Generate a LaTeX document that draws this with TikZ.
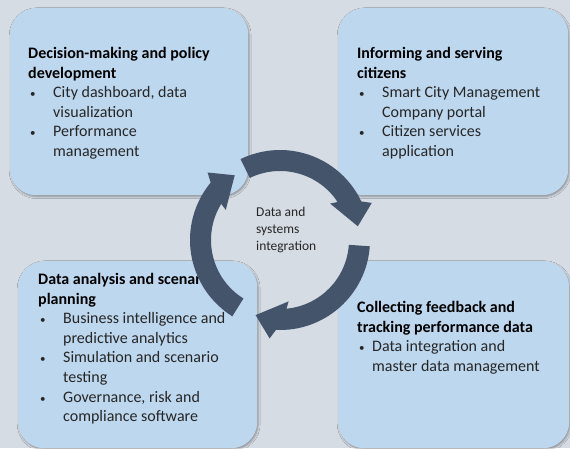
\documentclass[tikz,border=0pt]{standalone}
\usepackage{fontspec}
\setmainfont{Carlito}
\usepackage{xcolor}
\usetikzlibrary{positioning, shadows.blur}

\definecolor{bggray}{HTML}{D6DCE4}
\definecolor{panelblue}{HTML}{BDD7EE}
\definecolor{cycleslate}{HTML}{44546A}

\newcommand{\bitem}[2][25pt]{\makebox[#1][l]{\hspace{2pt}{\fontsize{11pt}{11pt}\selectfont\textbullet}}#2}
\newcommand{\bnext}[2][25pt]{\makebox[#1]{}#2}

\begin{document}
\begin{tikzpicture}[
		x=1pt, y=1pt,
		font=\fontsize{16pt}{19.6pt}\selectfont,
		panel/.style={
			fill=panelblue,
			rounded corners=26pt,
			anchor=north west,
			inner sep=0pt,
			minimum height=187pt,
			blur shadow={shadow xshift=1pt, shadow yshift=-1.5pt,
				shadow blur radius=2pt, shadow opacity=35}
		},
		paneltext/.style={
			anchor=north west,
			align=left,
			inner sep=0pt,
			text=black!85
		},
		cyclearrow/.style={fill=cycleslate}
		]
		
		\useasboundingbox (0,0) rectangle (570,448);
		\fill[bggray] (0,0) rectangle (570,448);
		
		% --- Decision-making (top left) ---
		\node[panel, minimum width=238pt] (decision) at (10,440) {};
		\node[paneltext] (decisiontxt) at ([xshift=18pt, yshift=-39pt]decision.north west) {
			\textbf{\color{black}Decision-making and policy}\\
			\textbf{\color{black}development}\\
			\bitem{City dashboard, data}\\
			\bnext{visualization}\\
			\bitem{Performance}\\
			\bnext{management}
		};
		
		% --- Informing (top right) ---
		\node[panel, minimum width=230pt] (inform) at (338,440) {};
		\node[paneltext] (informtxt) at ([xshift=19pt, yshift=-39pt]inform.north west) {
			\textbf{\color{black}Informing and serving}\\
			\textbf{\color{black}citizens}\\
			\bitem{Smart City Management}\\
			\bnext{Company portal}\\
			\bitem{Citizen services}\\
			\bnext{application}
		};
		
		% --- Analysis (bottom left) ---
		\node[panel, minimum width=239pt] (analysis) at (18,187) {};
		\node[paneltext] (analysistxt) at ([xshift=20pt, yshift=-12pt]analysis.north west) {
			\textbf{\color{black}Data analysis and scenario}\\
			\textbf{\color{black}planning}\\
			\bitem{Business intelligence and}\\
			\bnext{predictive analytics}\\
			\bitem{Simulation and scenario}\\
			\bnext{testing}\\
			\bitem{Governance, risk and}\\
			\bnext{compliance software}
		};
		
		% --- Feedback (bottom right) ---
		\node[panel, minimum width=231pt] (feedback) at (338,187) {};
		\node[paneltext] (feedbacktxt) at ([xshift=19pt, yshift=-40pt]feedback.north west) {
			\textbf{\color{black}Collecting feedback and}\\
			\textbf{\color{black}tracking performance data}\\
			\bitem[15pt]{Data integration and}\\
			\bnext[15pt]{master data management}
		};
		
		% --- Integration cycle ---
		\coordinate (hub) at (280,208);
		\begin{scope}[shift={(hub)}]
			\foreach \tail/\tip in {116/10, -4/-108, -122/-235}{
				\fill[cyclearrow] (\tail:90pt)
					arc[start angle=\tail, end angle=\tip+15.4, radius=90pt]
					-- ({\tip+12}:99pt) -- (\tip:79pt) -- ({\tip+26}:62pt)
					-- ({\tip+23.4}:69pt)
					arc[start angle=\tip+23.4, end angle=\tail, radius=69pt]
					-- cycle;
			}
		\end{scope}
		\node[paneltext, anchor=west, font=\fontsize{13.5pt}{17pt}\selectfont]
			(hubtxt) at ([xshift=-24pt, yshift=10pt]hub) {
			Data and\\
			systems\\
			integration
		};
		
	\end{tikzpicture}
\end{document}
